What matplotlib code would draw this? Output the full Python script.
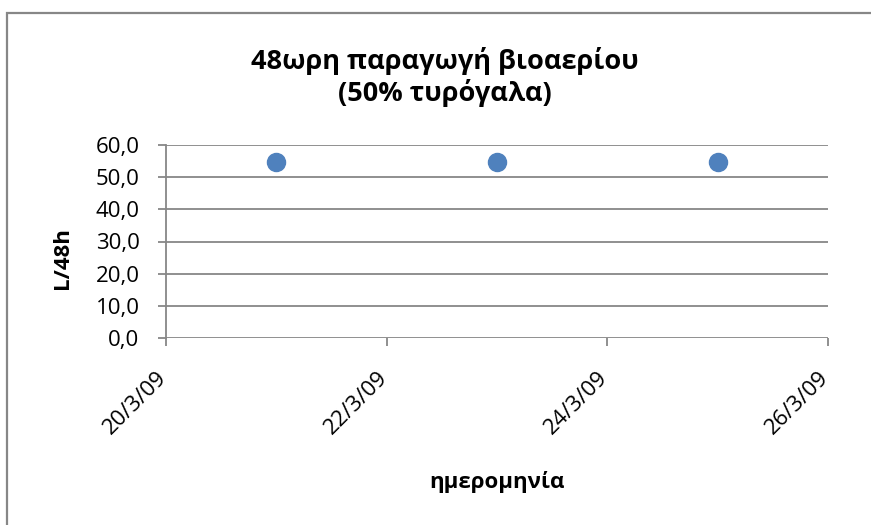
import matplotlib
matplotlib.use('Agg')
import matplotlib.pyplot as plt
import matplotlib.dates as mdates
import matplotlib.transforms as mtransforms
from matplotlib.patches import Rectangle
from datetime import datetime, timedelta

# Ημερήσιες μετρήσεις βιοαερίου (L ανά 48 ώρες)
dates = [datetime(2009, 3, 21), datetime(2009, 3, 23), datetime(2009, 3, 25)]
biogas = [54.6, 54.6, 54.6]

title_lines = ['48ωρη παραγωγή βιοαερίου', '(50% τυρόγαλα)']
xlabel = 'ημερομηνία'
ylabel = 'L/48h'

plt.rcParams['font.family'] = ['Open Sans', 'DejaVu Sans']

W, H = 871, 525
fig = plt.figure(figsize=(W / 100, H / 100), dpi=100)
ax = fig.add_axes([166 / W, 1 - 338 / H, 662 / W, 193 / H])

# πλαίσιο γραφήματος
fig.patches.append(Rectangle((7 / W, -0.05), 1.2, 1 - 13 / H + 0.05,
                             transform=fig.transFigure, fill=False,
                             edgecolor='#878787', linewidth=1.6))

ax.plot(dates, biogas, 'o', color='#4F81BD', markersize=13, zorder=3)

ax.set_ylim(0, 60)
ax.set_yticks(range(0, 61, 10))
ax.set_yticklabels([f'{v:.1f}'.replace('.', ',') for v in range(0, 61, 10)])
ax.set_xlim(datetime(2009, 3, 20), datetime(2009, 3, 26))
ax.set_xticks([datetime(2009, 3, 20) + timedelta(days=d) for d in range(0, 7, 2)])
ax.xaxis.set_major_formatter(
    plt.FuncFormatter(lambda v, p: (lambda d: f'{d.day}/{d.month}/{d:%y}')(mdates.num2date(v))))

ax.grid(axis='y', color='#878787', linewidth=1.3)
ax.set_axisbelow(True)
for s in ['top', 'right', 'bottom']:
    ax.spines[s].set_visible(False)
ax.spines['left'].set_color('#878787')
ax.spines['left'].set_linewidth(1.3)
ax.tick_params(axis='both', colors='#878787', length=6, width=1.3, labelcolor='black', labelsize=16)
ax.tick_params(axis='y', pad=13)
ax.tick_params(axis='x', pad=15)
shift = mtransforms.ScaledTranslation(5 / 100, 0, fig.dpi_scale_trans)
for lbl in ax.get_xticklabels():
    lbl.set_rotation(45)
    lbl.set_ha('right')
    lbl.set_transform(lbl.get_transform() + shift)

# τίτλος σε δύο γραμμές
fig.text(445 / W, 1 - 69 / H, title_lines[0], ha='center', va='baseline',
         fontsize=19.5, fontweight='bold')
fig.text(445 / W, 1 - 101 / H, title_lines[1], ha='center', va='baseline',
         fontsize=19.5, fontweight='bold')

fig.text(497 / W, 1 - 482 / H, xlabel, ha='center', va='center',
         fontsize=16, fontweight='bold')
fig.text(62 / W, 1 - 258 / H, ylabel, ha='center', va='center', rotation=90,
         fontsize=16, fontweight='bold')

fig.savefig('out.png', dpi=100)
